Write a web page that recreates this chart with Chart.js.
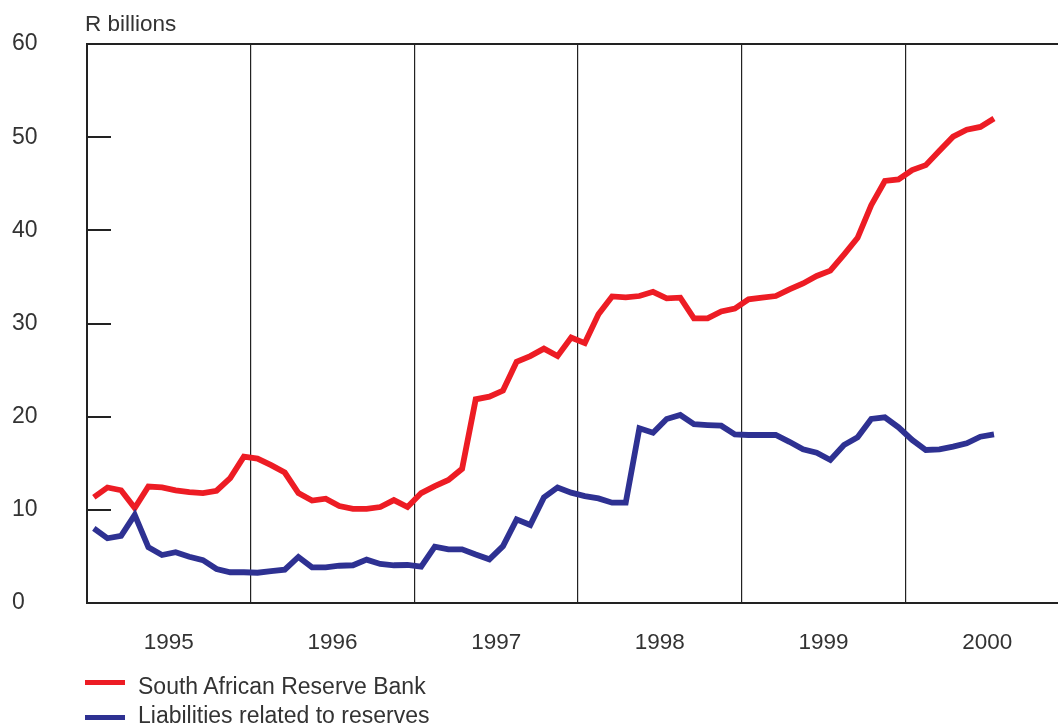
<!DOCTYPE html>
<html>
<head>
<meta charset="utf-8">
<script src="https://cdn.jsdelivr.net/npm/chart.js@4"></script>
<style>
  html, body { margin: 0; padding: 0; overflow: hidden; background: #fff; }
  #wrap { position: relative; width: 1058px; height: 725px; overflow: hidden; }
  canvas { position: absolute; left: 0; top: 0; }
  .txt { position: absolute; font-family: 'Liberation Sans', Arial, sans-serif; color: #333; white-space: nowrap; line-height: 26px; }
  .sw { position: absolute; left: 85px; width: 40px; height: 5px; }
</style>
</head>
<body>
<div id="wrap">
  <canvas id="c" width="1080" height="725" style="width:1080px;height:725px;"></canvas>
  <div class="txt" style="left:85px; top:11px; font-size:22.5px;">R billions</div>
  <div class="sw" style="top:680px; background:#ed1c24;"></div>
  <div class="txt" style="left:138px; top:673px; font-size:23px;">South African Reserve Bank</div>
  <div class="sw" style="top:715px; background:#2e3192;"></div>
  <div class="txt" style="left:138px; top:702px; font-size:23px;">Liabilities related to reserves</div>
</div>
<script>
// Years on the x axis (each year = 12 monthly points)
const years = ['1995', '1996', '1997', '1998', '1999', '2000'];
// Monthly values, Jan 1995 .. Jul 2000 (R billions)
const reserveBank = [
  11.35, 12.4, 12.1, 10.2, 12.5, 12.4, 12.1, 11.9, 11.8, 12.05, 13.4, 15.7,
  15.5, 14.8, 14.0, 11.8, 11.0, 11.2, 10.4, 10.1, 10.1, 10.3, 11.05, 10.3,
  11.8, 12.55, 13.2, 14.4, 21.86, 22.15, 22.8, 25.9, 26.5, 27.3, 26.5, 28.5,
  27.9, 31.0, 32.9, 32.8, 32.95, 33.4, 32.7, 32.77, 30.55, 30.55, 31.3, 31.6,
  32.6, 32.77, 32.95, 33.67, 34.3, 35.1, 35.67, 37.4, 39.2, 42.7, 45.3, 45.47,
  46.47, 47.0, 48.55, 50.05, 50.8, 51.1, 52.0
];
const liabilities = [
  8.0, 6.95, 7.2, 9.45, 5.98, 5.15, 5.45, 4.97, 4.6, 3.65, 3.3, 3.3,
  3.25, 3.43, 3.57, 4.94, 3.83, 3.83, 4.0, 4.05, 4.65, 4.19, 4.05, 4.08,
  3.9, 6.05, 5.76, 5.76, 5.2, 4.69, 6.1, 8.98, 8.37, 11.34, 12.4, 11.84,
  11.48, 11.23, 10.77, 10.77, 18.75, 18.28, 19.75, 20.18, 19.2, 19.1, 19.03, 18.1,
  18.03, 18.03, 18.03, 17.3, 16.5, 16.13, 15.35, 16.96, 17.78, 19.75, 19.93, 18.86,
  17.5, 16.42, 16.5, 16.78, 17.14, 17.85, 18.1
];
const yTicks = [0, 10, 20, 30, 40, 50, 60];

const toPoints = arr => arr.map((v, i) => ({ x: i + 0.5, y: v }));
const monthsTotal = years.length * 12;

const frame = {
  id: 'frame',
  afterDraw(chart) {
    const { ctx, chartArea, scales } = chart;
    ctx.save();
    ctx.strokeStyle = '#222';
    ctx.lineWidth = 2;
    ctx.beginPath();
    ctx.moveTo(chartArea.left - 1, chartArea.top);
    ctx.lineTo(chartArea.right, chartArea.top);
    ctx.stroke();
    yTicks.forEach(v => {
      if (v === 0 || v === 60) return;
      const y = Math.round(scales.y.getPixelForValue(v));
      ctx.beginPath();
      ctx.moveTo(chartArea.left, y);
      ctx.lineTo(chartArea.left + 24, y);
      ctx.stroke();
    });
    ctx.restore();
  }
};

Chart.defaults.font.family = "'Liberation Sans', Arial, sans-serif";
Chart.defaults.font.size = 22.5;
Chart.defaults.color = '#333';

new Chart(document.getElementById('c'), {
  type: 'line',
  data: {
    datasets: [
      { label: 'South African Reserve Bank', data: toPoints(reserveBank), borderColor: '#ed1c24',
        borderWidth: 5.8, pointRadius: 0, tension: 0, borderJoinStyle: 'miter', order: 2 },
      { label: 'Liabilities related to reserves', data: toPoints(liabilities), borderColor: '#2e3192',
        borderWidth: 5.8, pointRadius: 0, tension: 0, borderJoinStyle: 'miter', order: 1 }
    ]
  },
  options: {
    responsive: false,
    maintainAspectRatio: false,
    animation: false,
    events: [],
    layout: { padding: { left: 12, top: 44, right: 11, bottom: 0 } },
    plugins: { legend: { display: false }, tooltip: { enabled: false }, title: { display: false } },
    scales: {
      x: {
        type: 'linear',
        min: 0,
        max: monthsTotal,
        afterBuildTicks: s => { const t = []; for (let v = 0; v <= monthsTotal; v += 6) t.push({ value: v }); s.ticks = t; },
        afterFit: s => { s.height = 122; s.paddingLeft = 0; s.paddingRight = 0; },
        ticks: {
          autoSkip: false,
          maxRotation: 0,
          padding: 26,
          callback: v => (v % 12 === 6 ? years[(v - 6) / 12] : '')
        },
        grid: {
          drawTicks: false,
          lineWidth: 1.2,
          color: ctx => {
            const v = ctx.tick && ctx.tick.value;
            return (v % 12 === 0 && v > 0 && v < monthsTotal) ? '#222' : 'rgba(0,0,0,0)';
          }
        },
        border: { display: true, color: '#222', width: 2 }
      },
      y: {
        min: 0,
        max: 60,
        afterBuildTicks: s => { s.ticks = yTicks.map(v => ({ value: v })); },
        afterFit: s => { s.width = 75; s.paddingTop = 0; s.paddingBottom = 0; },
        ticks: { crossAlign: 'far', padding: 0, font: { size: 23 } },
        grid: { display: false, drawTicks: false },
        border: { display: true, color: '#222', width: 2 }
      }
    }
  },
  plugins: [frame]
});
</script>
</body>
</html>
